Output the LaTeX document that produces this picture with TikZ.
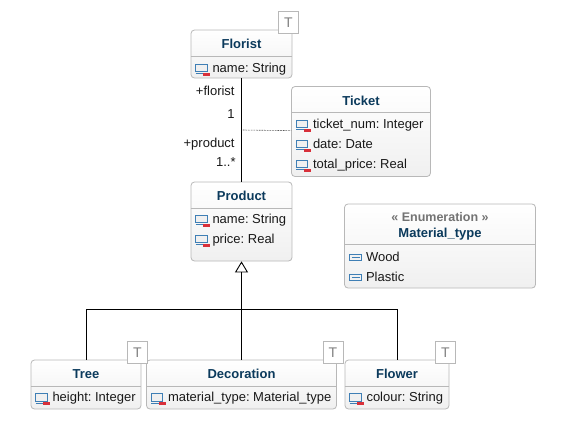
\documentclass[tikz,border=0pt]{standalone}
\usepackage{fontspec}
\setmainfont{Liberation Sans}
\frenchspacing
\usetikzlibrary{arrows.meta, calc, positioning}

\definecolor{titleblue}{HTML}{0B3A5C}
\definecolor{boxline}{HTML}{B8B8B8}
\definecolor{iconblue}{HTML}{3F7FB5}
\definecolor{iconred}{HTML}{D8303A}

\tikzset{
	umlbox/.style = {draw=boxline, rounded corners=3.5pt, top color=white, bottom color=black!6, inner sep=0pt},
	umltitle/.style = {font=\bfseries\fontsize{13}{15}\selectfont, text=titleblue, inner sep=0pt, text height=10pt, text depth=3pt},
	umlstereo/.style = {font=\bfseries\fontsize{12.5}{15}\selectfont, text=black!55, inner sep=0pt, text height=10pt, text depth=3pt},
	umlrow/.style = {font=\fontsize{13}{15}\selectfont, text=black!90, anchor=west, inner sep=0pt, text height=10pt, text depth=3pt},
	umlrole/.style = {font=\fontsize{13}{15}\selectfont, text=black!90, anchor=east, inner sep=0pt, text height=10pt, text depth=3pt},
	tagbox/.style = {draw=boxline, fill=white, text=black!50, font=\fontsize{14}{15}\selectfont, minimum width=20pt, minimum height=22pt, inner sep=0pt},
	divider/.style = {draw=boxline},
	attricon/.pic = {
		\draw [iconblue, fill=black!6, line width=1.1pt] (-16.5,4.5) rectangle (-5,-3);
		\draw [iconblue, line width=1.1pt] (-16.5,-5) -- (-7,-5);
		\fill [iconred] (-9,-4) rectangle (-2,-7);
	},
	enumicon/.pic = {
		\draw [iconblue, fill=black!5, line width=1.1pt] (-16,3.2) rectangle (-4,-3.2);
		\draw [iconblue, line width=1pt] (-14,0) -- (-6,0);
	}
}

\begin{document}
\begin{tikzpicture}[x=1pt,y=1pt,on grid,thick]
	\useasboundingbox (0,0) rectangle (565,-439);
	
	\node (florist) [umlbox, minimum width=101pt, minimum height=48pt] at (241.5,-54) {};
	\node (ticket) [umlbox, minimum width=139pt, minimum height=90pt, below right=77.5pt and 119.5pt of florist] {};
	\node (product) [umlbox, minimum width=101pt, minimum height=79pt, below=167.5pt of florist] {};
	\node (material) [umlbox, minimum width=191pt, minimum height=84pt, below right=24.5pt and 198.5pt of product] {};
	\node (decoration) [umlbox, minimum width=190pt, minimum height=49pt, below=163pt of product] {};
	\node (tree) [umlbox, minimum width=110pt, minimum height=49pt, left=155.5pt of decoration] {};
	\node (flower) [umlbox, minimum width=104pt, minimum height=49pt, right=155.5pt of decoration] {};
	
	% compartments
	\foreach \cls in {florist, ticket, product, decoration, tree, flower}
		\draw [divider] ([yshift=-26.5pt]\cls.north west) -- ([yshift=-26.5pt]\cls.north east);
	\draw [divider] ([yshift=-41pt]material.north west) -- ([yshift=-41pt]material.north east);
	
	\node (florist_n) [umltitle] at ([yshift=-15.5pt]florist.north) {Florist};
	\node (ticket_n) [umltitle] at ([yshift=-15.5pt]ticket.north) {Ticket};
	\node (product_n) [umltitle] at ([yshift=-15.5pt]product.north) {Product};
	\node (tree_n) [umltitle] at ([yshift=-15.5pt]tree.north) {Tree};
	\node (decoration_n) [umltitle] at ([yshift=-15.5pt]decoration.north) {Decoration};
	\node (flower_n) [umltitle] at ([yshift=-15.5pt]flower.north) {Flower};
	\node (material_s) [umlstereo] at ([yshift=-14.5pt]material.north) {« Enumeration »};
	\node (material_n) [umltitle] at ([yshift=-30.5pt]material.north) {Material\_type};
	
	\node (florist_a) [umlrow] at ([shift={(21.5,-39)}]florist.north west) {name: String};
	\node (ticket_a) [umlrow] at ([shift={(21.5,-38.5)}]ticket.north west) {ticket\_num: Integer};
	\node (ticket_b) [umlrow] at ([yshift=-20pt]ticket_a.west) {date: Date};
	\node (ticket_c) [umlrow] at ([yshift=-20pt]ticket_b.west) {total\_price: Real};
	\node (product_a) [umlrow] at ([shift={(21.5,-38)}]product.north west) {name: String};
	\node (product_b) [umlrow] at ([yshift=-20pt]product_a.west) {price: Real};
	\node (tree_a) [umlrow] at ([shift={(21.5,-38.5)}]tree.north west) {height: Integer};
	\node (decoration_a) [umlrow] at ([shift={(21.5,-38.5)}]decoration.north west) {material\_type: Material\_type};
	\node (flower_a) [umlrow] at ([shift={(21.5,-38.5)}]flower.north west) {colour: String};
	\node (material_a) [umlrow] at ([shift={(21.5,-54)}]material.north west) {Wood};
	\node (material_b) [umlrow] at ([yshift=-20pt]material_a.west) {Plastic};
	
	\foreach \row in {florist_a, ticket_a, ticket_b, ticket_c, product_a, product_b, tree_a, decoration_a, flower_a}
		\pic at (\row.west) {attricon};
	\foreach \row in {material_a, material_b}
		\pic at (\row.west) {enumicon};
	
	\node (florist_t) [tagbox] at ([shift={(-4,7)}]florist.north east) {T};
	\node (tree_t) [tagbox] at ([shift={(-4,7)}]tree.north east) {T};
	\node (decoration_t) [tagbox] at ([shift={(-4,7)}]decoration.north east) {T};
	\node (flower_t) [tagbox] at ([shift={(-4,7)}]flower.north east) {T};
	
	% connectors
	\coordinate (assoc) at ($(florist.south)!0.5!(product.north)$);
	\coordinate (branch) at ([yshift=50pt]decoration.north);
	
	\draw [line width=0.9pt] (florist) -- (product);
	\draw [densely dotted, line width=0.6pt] (assoc) -- (ticket);
	\draw [line width=0.9pt, -{Triangle[open, length=11pt, width=13pt]}] (decoration) -- (product);
	\draw [line width=0.9pt] (tree) |- (branch);
	\draw [line width=0.9pt] (flower) |- (branch);
	
	\node (florist_r) [umlrole] at ([shift={(-6.5,-13.5)}]florist.south) {+florist};
	\node (florist_m) [umlrole] at ([shift={(-6.5,-36.5)}]florist.south) {1};
	\node (product_r) [umlrole] at ([shift={(-6.5,37.5)}]product.north) {+product};
	\node (product_m) [umlrole] at ([shift={(-5.5,18.5)}]product.north) {1..*};
\end{tikzpicture}
\end{document}
